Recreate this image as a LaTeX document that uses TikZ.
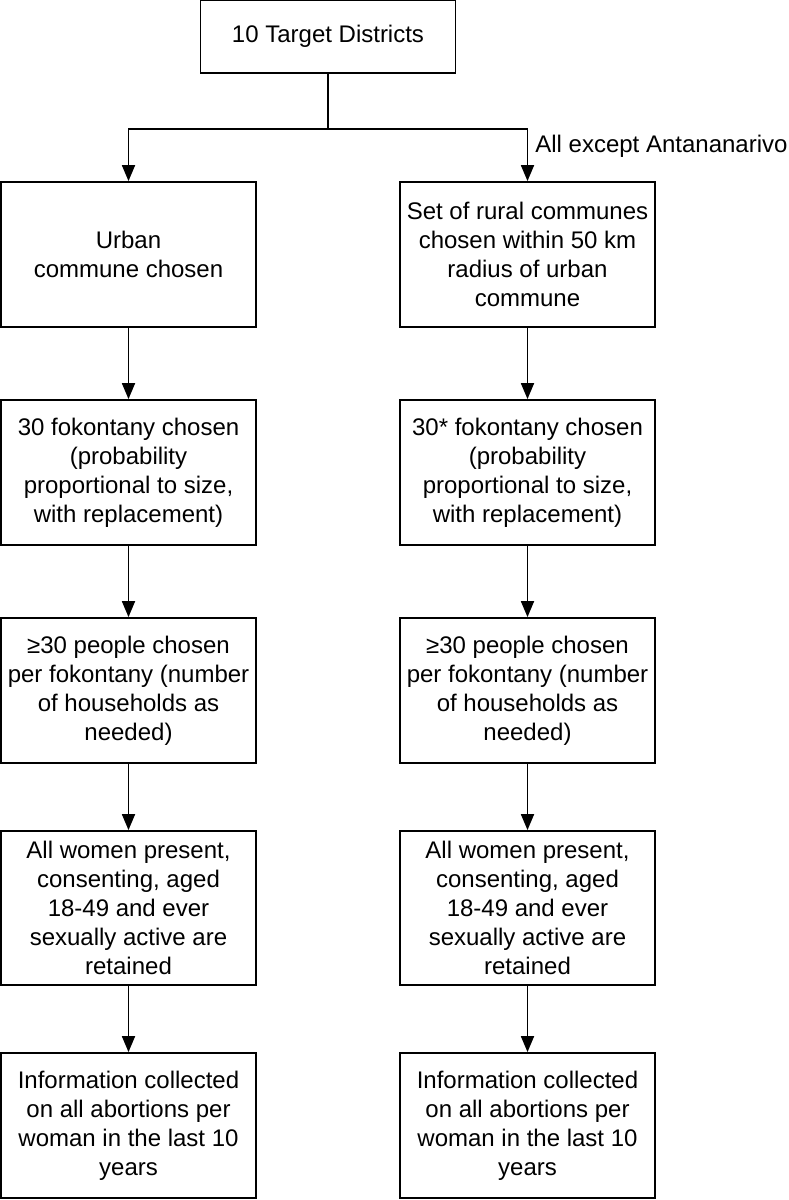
\documentclass[tikz,border=0pt]{standalone}
\usepackage{fontspec}
\setmainfont{Liberation Sans}
\usetikzlibrary{positioning,arrows.meta,calc}
\begin{document}
\begin{tikzpicture}
[box/.style={draw, line width=0.9pt, align=center, minimum width=127.5pt,
   minimum height=72.5pt, inner sep=2pt, font=\fontsize{12pt}{14.5pt}\selectfont},
 arr/.style={line width=0.9pt, -{Triangle[length=8pt,width=6.5pt]}}]
\useasboundingbox (0,0) rectangle (394pt,-600pt);
\node[box, minimum height=36.5pt] (top) at (164pt,-18.25pt) {10 Target Districts};
\node[box] (urban) at (64.25pt,-127.25pt) {Urban\\commune chosen};
\node[box] (rural) at (263.75pt,-127.25pt) {Set of rural communes\\chosen within 50 km\\radius of urban\\commune};
\node[box, below=35.6pt of urban] (fokL) {30 fokontany chosen\\(probability\\proportional to size,\\with replacement)};
\node[box, below=35.6pt of rural] (fokR) {30* fokontany chosen\\(probability\\proportional to size,\\with replacement)};
\node[box, below=35.6pt of fokL] (pplL) {≥30 people chosen\\per fokontany (number\\of households as\\needed)};
\node[box, below=35.6pt of fokR] (pplR) {≥30 people chosen\\per fokontany (number\\of households as\\needed)};
\node[box, minimum height=77pt, below=33.1pt of pplL] (womL) {All women present,\\consenting, aged\\18-49 and ever\\sexually active are\\retained};
\node[box, minimum height=77pt, below=33.1pt of pplR] (womR) {All women present,\\consenting, aged\\18-49 and ever\\sexually active are\\retained};
\node[box, below=33.1pt of womL] (infoL) {Information collected\\on all abortions per\\woman in the last 10\\years};
\node[box, below=33.1pt of womR] (infoR) {Information collected\\on all abortions per\\woman in the last 10\\years};
\coordinate (split) at ($(top.south)+(0,-27.5pt)$);
\node[anchor=base west, inner sep=0pt, font=\fontsize{12pt}{14.5pt}\selectfont]
  (except) at ($(rural.north)+(3.75pt,14.5pt)$) {All except Antananarivo};
% split
\draw[line width=0.9pt] (top.south) -- (split);
\draw[arr] (split) -| (urban.north);
\draw[arr] (split) -| (rural.north);
% columns
\draw[arr] (urban) -- (fokL);
\draw[arr] (fokL) -- (pplL);
\draw[arr] (pplL) -- (womL);
\draw[arr] (womL) -- (infoL);
\draw[arr] (rural) -- (fokR);
\draw[arr] (fokR) -- (pplR);
\draw[arr] (pplR) -- (womR);
\draw[arr] (womR) -- (infoR);
\end{tikzpicture}
\end{document}
